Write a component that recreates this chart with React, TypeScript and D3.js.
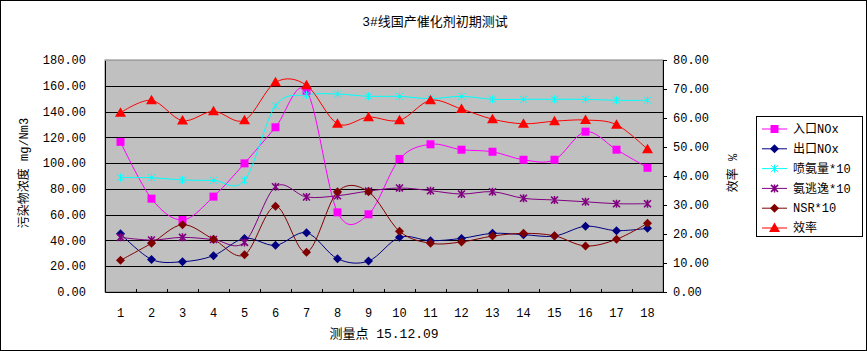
import React, { useEffect, useRef } from 'react'
import * as d3 from 'd3'

const categories = ['1', '2', '3', '4', '5', '6', '7', '8', '9', '10', '11', '12', '13', '14', '15', '16', '17', '18']
const inletNOx = [116.5, 72.4, 55.9, 74.0, 99.8, 127.8, 156.2, 61.8, 60.3, 103.2, 114.6, 110.4, 108.8, 102.6, 102.6, 124.4, 110.4, 96.4]
const outletNOx = [45.2, 25.3, 23.5, 28.2, 41.6, 36.2, 46.0, 25.8, 24.0, 42.4, 39.8, 41.6, 45.5, 44.5, 43.4, 51.0, 47.6, 49.4]
const ammoniaFeed = [88.7, 88.7, 86.9, 86.6, 86.6, 144.5, 153.0, 153.6, 151.8, 151.8, 150.0, 151.8, 149.5, 149.5, 149.5, 149.5, 148.7, 148.7]
const ammoniaSlip = [42.4, 40.3, 42.4, 40.7, 38.5, 81.7, 73.7, 74.7, 78.3, 80.7, 78.6, 76.0, 77.8, 72.7, 71.4, 70.0, 68.5, 68.5]
const nsr = [24.6, 37.8, 52.2, 40.9, 28.9, 66.5, 30.8, 77.8, 77.8, 47.1, 37.8, 38.8, 43.4, 45.5, 43.6, 35.7, 40.9, 53.3]
const efficiency = [61.8, 66.1, 59.1, 62.3, 59.2, 72.3, 71.3, 58.0, 60.3, 59.2, 66.1, 63.1, 59.6, 58.0, 58.9, 59.3, 57.7, 49.2]
const leftTicks = [0, 20, 40, 60, 80, 100, 120, 140, 160, 180]
const rightTicks = [0, 10, 20, 30, 40, 50, 60, 70, 80]

const W = 867, H = 351
const plot = { left: 105, right: 663, top: 60, bottom: 292 }
const FONT = '"Liberation Mono", "Noto Sans CJK SC", monospace'

const series = [
  { name: '入口NOx', values: inletNOx, color: '#FF00FF', marker: 'square', axis: 'left' },
  { name: '出口NOx', values: outletNOx, color: '#000080', marker: 'diamond', axis: 'left' },
  { name: '喷氨量*10', values: ammoniaFeed, color: '#00FFFF', marker: 'x', axis: 'left' },
  { name: '氨逃逸*10', values: ammoniaSlip, color: '#800080', marker: 'star', axis: 'left' },
  { name: 'NSR*10', values: nsr, color: '#800000', marker: 'diamond', axis: 'left' },
  { name: '效率', values: efficiency, color: '#FF0000', marker: 'triangle', axis: 'right' },
]

function drawMarker(g, kind, x, y, color) {
  if (kind === 'square') {
    g.append('rect').attr('x', x - 4).attr('y', y - 4).attr('width', 8).attr('height', 8).attr('fill', color)
  } else if (kind === 'diamond') {
    g.append('path').attr('d', `M${x},${y - 4.5}L${x + 4.5},${y}L${x},${y + 4.5}L${x - 4.5},${y}Z`).attr('fill', color)
  } else if (kind === 'triangle') {
    g.append('path').attr('d', `M${x},${y - 5.5}L${x + 5.5},${y + 4}L${x - 5.5},${y + 4}Z`).attr('fill', color)
  } else {
    const w = kind === 'x' ? 1 : 1.6
    g.append('path')
      .attr('d', `M${x - 3.5},${y - 3.5}L${x + 3.5},${y + 3.5}M${x - 3.5},${y + 3.5}L${x + 3.5},${y - 3.5}M${x},${y - 4}L${x},${y + 4}`)
      .attr('stroke', color).attr('stroke-width', w).attr('fill', 'none')
  }
}

export default function App() {
  const ref = useRef(null)

  useEffect(() => {
    const svg = d3.select(ref.current)
    svg.selectAll('*').remove()

    svg.append('rect').attr('x', 0.5).attr('y', 0.5).attr('width', W - 1).attr('height', H - 1)
      .attr('fill', 'white').attr('stroke', 'black')

    const x = d3.scaleBand().domain(categories).range([plot.left, plot.right])
    const yL = d3.scaleLinear().domain([0, 180]).range([plot.bottom, plot.top])
    const yR = d3.scaleLinear().domain([0, 80]).range([plot.bottom, plot.top])
    const cx = (i) => x(categories[i]) + x.bandwidth() / 2

    // plot background
    svg.append('rect').attr('x', plot.left).attr('y', plot.top)
      .attr('width', plot.right - plot.left).attr('height', plot.bottom - plot.top)
      .attr('fill', '#C0C0C0').attr('stroke', '#808080')

    // gridlines
    svg.append('g').selectAll('line').data(leftTicks.slice(1, -1)).join('line')
      .attr('x1', plot.left).attr('x2', plot.right)
      .attr('y1', d => Math.round(yL(d)) + 0.5).attr('y2', d => Math.round(yL(d)) + 0.5)
      .attr('stroke', 'black')

    // axis lines
    svg.append('path').attr('d', `M${plot.left + 0.5},${plot.top + 1}V${plot.bottom + 0.5}H${plot.right + 0.5}V${plot.top + 1}`)
      .attr('fill', 'none').attr('stroke', 'black')

    // x ticks (inside)
    svg.append('g').selectAll('line').data(categories.slice(1)).join('line')
      .attr('x1', d => Math.round(x(d)) + 0.5).attr('x2', d => Math.round(x(d)) + 0.5)
      .attr('y1', plot.bottom - 3).attr('y2', plot.bottom)
      .attr('stroke', 'black')

    // right ticks (outside)
    svg.append('g').selectAll('line').data(rightTicks).join('line')
      .attr('x1', plot.right).attr('x2', plot.right + 4)
      .attr('y1', d => Math.round(yR(d)) + 0.5).attr('y2', d => Math.round(yR(d)) + 0.5)
      .attr('stroke', 'black')

    // tick labels
    svg.append('g').selectAll('text').data(leftTicks).join('text')
      .attr('x', 86).attr('y', d => yL(d)).attr('dy', '0.35em')
      .attr('text-anchor', 'end').style('font-family', FONT).style('font-size', '12px')
      .text(d => d.toFixed(2))
    svg.append('g').selectAll('text').data(rightTicks).join('text')
      .attr('x', 673).attr('y', d => yR(d)).attr('dy', '0.35em')
      .attr('text-anchor', 'start').style('font-family', FONT).style('font-size', '12px')
      .text(d => d.toFixed(2))
    svg.append('g').selectAll('text').data(categories).join('text')
      .attr('x', (d, i) => cx(i)).attr('y', 313).attr('dy', '0.35em')
      .attr('text-anchor', 'middle').style('font-family', FONT).style('font-size', '12px')
      .text(d => d)

    // titles
    svg.append('text').attr('x', 435).attr('y', 21).attr('dy', '0.35em').attr('text-anchor', 'middle')
      .style('font-family', FONT).style('font-size', '13px').text('3#线国产催化剂初期测试')
    svg.append('text').attr('x', 384).attr('y', 333).attr('dy', '0.35em').attr('text-anchor', 'middle')
      .style('font-family', FONT).style('font-size', '13px').text('测量点 15.12.09')
    svg.append('text').attr('transform', 'translate(24,173) rotate(-90)').attr('dy', '0.35em').attr('text-anchor', 'middle')
      .style('font-family', FONT).style('font-size', '12px').text('污染物浓度 mg/Nm3')
    svg.append('text').attr('transform', 'translate(733,173) rotate(-90)').attr('dy', '0.35em').attr('text-anchor', 'middle')
      .style('font-family', FONT).style('font-size', '12px').text('效率 %')

    // series
    const sg = svg.append('g')
    series.forEach(s => {
      const y = s.axis === 'left' ? yL : yR
      const line = d3.line().x((d, i) => cx(i)).y(d => y(d)).curve(d3.curveCatmullRom.alpha(0))
      sg.append('path').attr('d', line(s.values)).attr('fill', 'none').attr('stroke', s.color).attr('stroke-width', 1)
    })
    series.forEach(s => {
      const y = s.axis === 'left' ? yL : yR
      const mg = sg.append('g')
      s.values.forEach((v, i) => drawMarker(mg, s.marker, cx(i), y(v), s.color))
    })

    // legend
    const lg = svg.append('g')
    lg.append('rect').attr('x', 756.5).attr('y', 116.5).attr('width', 106).attr('height', 120)
      .attr('fill', 'white').attr('stroke', 'black')
    series.forEach((s, i) => {
      const ly = 129 + i * 19.8
      lg.append('line').attr('x1', 762).attr('x2', 787).attr('y1', ly).attr('y2', ly)
        .attr('stroke', s.color).attr('stroke-width', 1)
      drawMarker(lg, s.marker, 774.5, ly, s.color)
      lg.append('text').attr('x', 793).attr('y', ly).attr('dy', '0.35em')
        .style('font-family', FONT).style('font-size', '12px').text(s.name)
    })
  }, [])

  return (
    <svg ref={ref} width={W} height={H} style={{ position: 'absolute', left: 0, top: 0, display: 'block' }} />
  )
}
